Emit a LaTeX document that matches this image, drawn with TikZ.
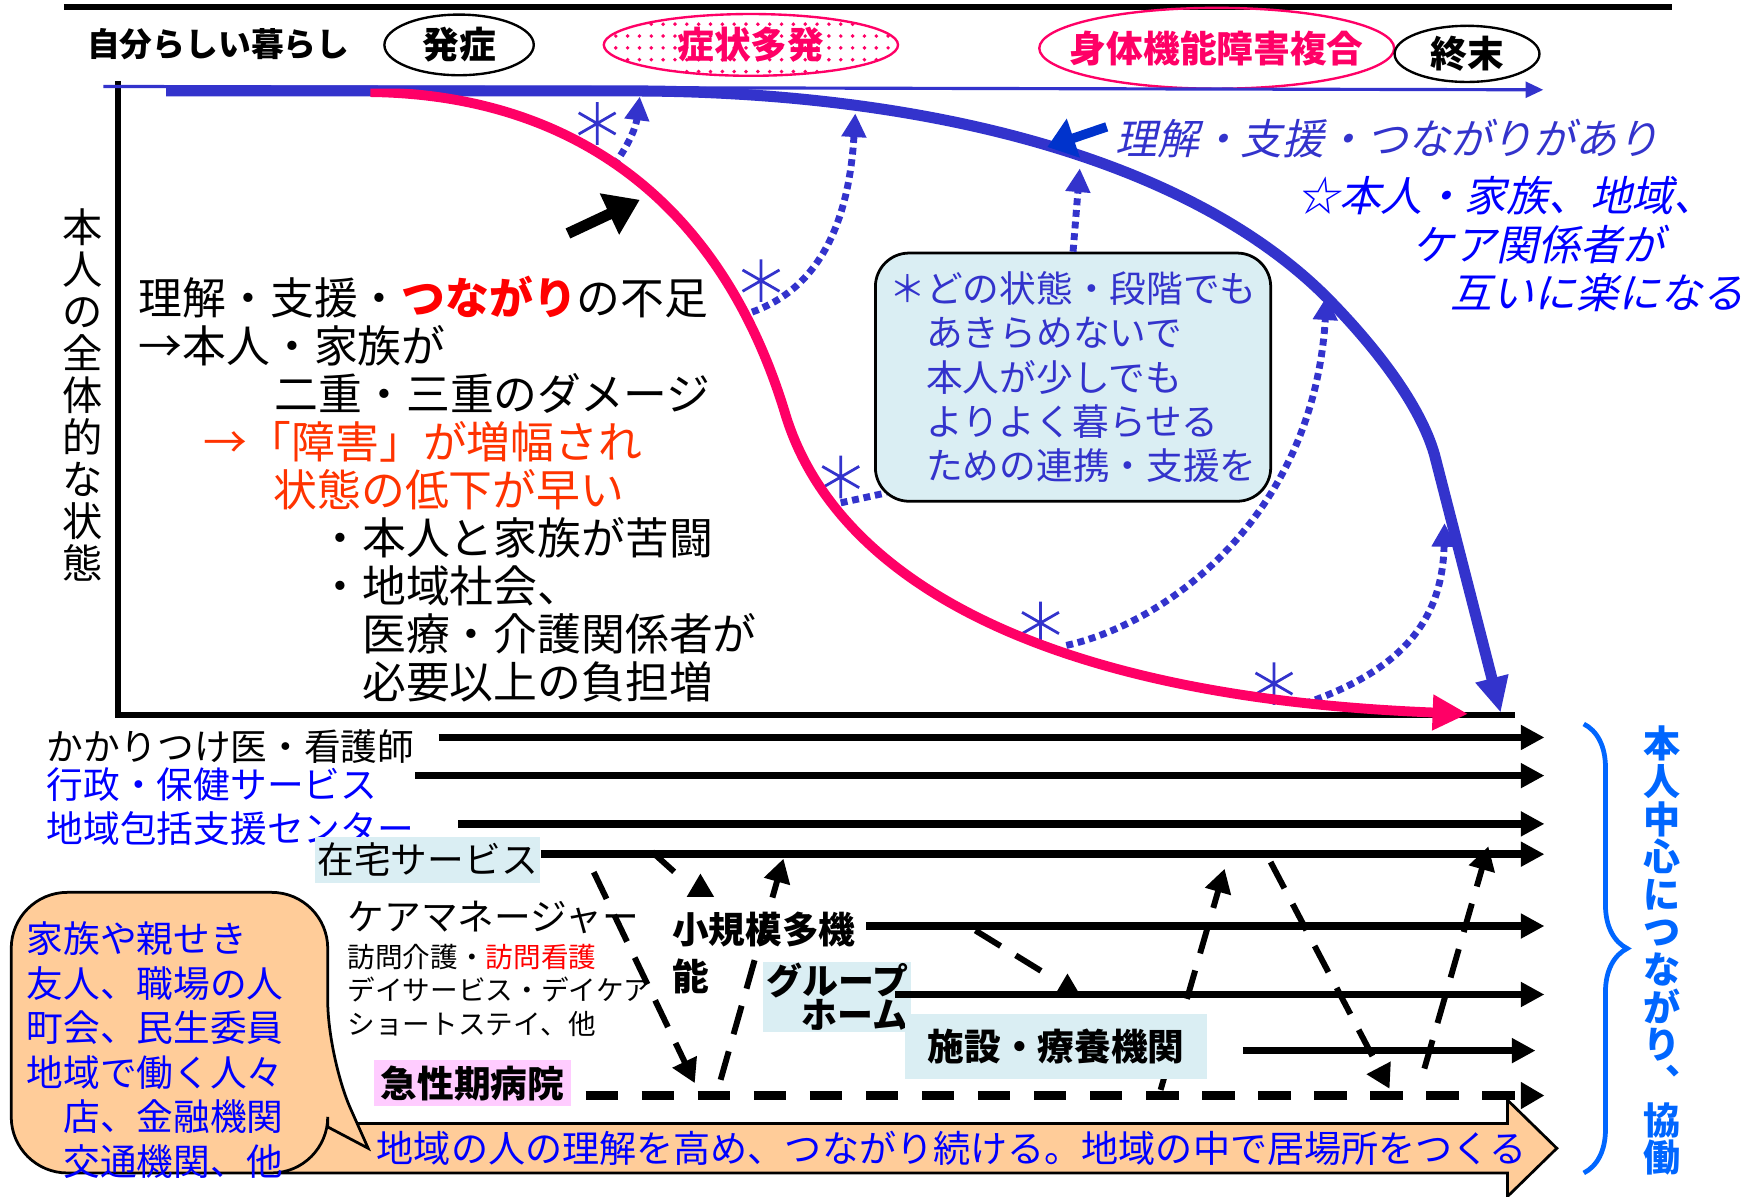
\documentclass[tikz,border=0pt]{standalone}
\usepackage{fontspec}
\setmainfont{Noto Sans CJK JP}
\newfontfamily\sljp{Noto Sans CJK JP}[FakeSlant=0.22]
\usepackage{tikz}
\usetikzlibrary{arrows.meta,shapes.geometric,patterns,decorations.pathreplacing}

\definecolor{cblue}{RGB}{51,51,204}
\definecolor{dblue}{RGB}{0,51,204}
\definecolor{tblue}{RGB}{0,0,255}
\definecolor{rblue}{RGB}{0,102,255}
\definecolor{cpink}{RGB}{255,0,102}
\definecolor{ored}{RGB}{255,51,0}
\definecolor{lcyan}{RGB}{218,238,243}
\definecolor{lpink}{RGB}{255,204,255}
\definecolor{lorange}{RGB}{255,204,153}

\newcommand{\fsz}[2]{\fontsize{#1}{#2}\selectfont\lineskiplimit=-30pt\relax}

\begin{document}
\begin{tikzpicture}[x=0.01cm,y=-0.01cm,
	every node/.style={inner sep=0pt},
	oval/.style={ellipse,draw,line width=0.6pt,font=\fsz{9.3pt}{11pt}\bfseries},
	tag/.style={fill=lcyan,font=\fsz{9.3pt}{11pt}},
	bluebar/.style={draw=cblue,line width=2.8pt,-{Triangle[length=9pt,width=8pt]}},
	pinkbar/.style={draw=cpink,line width=2.5pt,-{Triangle[length=9pt,width=8.5pt]}},
	dotline/.style={draw=cblue,line width=1.75pt,dash pattern=on 1.75pt off 1.2pt},
	dotarrow/.style={dotline,-{Triangle[length=6pt,width=6pt]}},
	harrow/.style={line width=1.9pt,-{Triangle[length=6pt,width=6pt]}},
	dashline/.style={line width=1.5pt,dash pattern=on 7.5pt off 4.5pt},
	dasharrow/.style={dashline,-{Triangle[length=6pt,width=6.5pt]}},
	astk/.pic={\draw[cblue,line width=0.7pt] (90:19) -- (270:19) (30:19) -- (210:19) (150:19) -- (330:19);}
	]
	\useasboundingbox (0,0) rectangle (1568,1066);

	% top
	\draw[line width=1.5pt] (57,6) -- (1490,6);
	\node[anchor=west,font=\fsz{8.3pt}{10pt}\bfseries] (title) at (77,39) {自分らしい暮らし};
	\node[oval,minimum width=1.33cm,minimum height=0.54cm] (onset) at (409,40) {発症};
	\node[oval,draw=cpink,text=cpink,pattern=dots,pattern color=cpink,minimum width=2.62cm,minimum height=0.55cm] (multi) at (669,40) {症状多発};
	\node[oval,draw=cpink,text=cpink,inner xsep=-0.2cm,minimum width=3.16cm,minimum height=0.72cm] (phys) at (1084,43) {身体機能障害複合};
	\node[oval,minimum width=1.29cm,minimum height=0.5cm] (term) at (1307,48) {終末};

	% axes
	\draw[line width=1.4pt] (105,72) -- (105,637) -- (1350,637);
	\node[align=center,font=\fsz{10.2pt}{10.64pt}] (state) at (74,352) {本\\人\\の\\全\\体\\的\\な\\状\\態};

	% asterisks, dotted arrows
	\foreach \ax/\ay in {532/110,678/250,749/425,927/555,1135/609}
		\pic at (\ax,\ay) {astk};
	\draw[dotarrow] (547,147) .. controls (563,125) and (567,110) .. (570,86);
	\draw[dotarrow] (670,278) .. controls (715,262) and (755,220) .. (762,101);
	\draw[dotline] (749,448) -- (790,439);
	\draw[dotarrow] (950,575) .. controls (1040,555) and (1170,460) .. (1182,264);
	\draw[dotarrow] (1162,627) .. controls (1240,600) and (1285,560) .. (1287,466);

	% curves
	\draw[bluebar] (148,81) -- (560,81) .. controls (820,81) and (1060,140) .. (1185,268) .. controls (1225,309) and (1265,360) .. (1278,405) -- (1337,635);
	\draw[pinkbar] (330,82) .. controls (500,84) and (640,170) .. (700,370) .. controls (740,500) and (900,620) .. (1308,636);
	\draw[cblue,line width=0.8pt,-{Triangle[length=4.5pt,width=4pt]}] (92,77) -- (1375,80);
	\draw[line width=2.8pt,-{Triangle[length=8.5pt,width=11pt]}] (506,208) -- (570,178);
	\draw[dblue,line width=2.4pt,-{Triangle[length=7pt,width=10pt]}] (986,113) -- (933,131);

	% texts in the chart
	\node[anchor=west,align=left,font=\fsz{11.1pt}{12.16pt}] (lack) at (123,436) {理解・支援・{\color{red}\bfseries つながり}の不足\\→本人・家族が\\\hspace*{1.21cm}二重・三重のダメージ\\\hspace*{0.58cm}{\color{ored}→「障害」が増幅され}\\\hspace*{1.2cm}{\color{ored}状態の低下が早い}\\\hspace*{1.6cm}・本人と家族が苦闘\\\hspace*{1.6cm}・地域社会、\\\hspace*{1.99cm}医療・介護関係者が\\\hspace*{1.99cm}必要以上の負担増};
	\node[anchor=west,text=cblue,font=\sljp\fsz{10.6pt}{12pt}] (with) at (993,123) {理解・支援・つながりがあり};
	\node[anchor=west,text=tblue,font=\sljp\fsz{10.6pt}{12pt}] (all1) at (1155,174) {☆本人・家族、地域、};
	\node[anchor=west,text=tblue,font=\sljp\fsz{10.6pt}{12pt}] (all2) at (1258,218) {ケア関係者が};
	\node[anchor=west,text=tblue,font=\sljp\fsz{10.6pt}{12pt}] (all3) at (1292,261) {互いに楽になる};
	\node[draw,fill=lcyan,line width=0.7pt,rounded corners=0.3cm,minimum width=3.52cm,minimum height=2.21cm,align=left,text=cblue,font=\fsz{9.3pt}{11.25pt}] (note) at (956,336) {＊どの状態・段階でも\\　あきらめないで\\　本人が少しでも\\　よりよく暮らせる\\　ための連携・支援を};
	\draw[dotarrow] (note.north) -- (962,150);

	% band and bubble
	\draw[fill=lorange,line width=0.7pt] (250,1001) -- (1343,1001) -- (1343,980) -- (1387,1023) -- (1343,1066) -- (1343,1045) -- (250,1045) -- cycle;
	\node[anchor=west,text=tblue,font=\fsz{9.4pt}{11pt}] (band) at (335,1023) {地域の人の理解を高め、つながり続ける。地域の中で居場所をつくる};
	\draw[fill=lorange,line width=0.7pt,rounded corners=0.5cm] (10,795) -- (292,795) -- (292,942) [sharp corners] -- (328,1023) -- (292,1004) [rounded corners=0.5cm] -- (292,1045) -- (10,1045) -- cycle;
	\node[anchor=west,align=left,text=tblue,font=\fsz{9.3pt}{11.3pt}] (people) at (23,935.5) {家族や親せき\\友人、職場の人\\町会、民生委員\\地域で働く人々\\　店、金融機関\\　交通機関、他};

	\draw[rblue,line width=1.2pt,decorate,decoration={brace,amplitude=11pt}] (1411,645) -- (1411,1045);
	\node[align=center,text=rblue,font=\fsz{9.4pt}{9.53pt}\bfseries] (focus) at (1481,847) {本\\人\\中\\心\\に\\つ\\な\\が\\り\\︑\\協\\働};

	% services
	\node[anchor=west,font=\fsz{9.3pt}{11pt}] (kakari) at (41,665) {かかりつけ医・看護師};
	\node[anchor=west,text=tblue,font=\fsz{9.3pt}{11pt}] (gyosei) at (41,699) {行政・保健サービス};
	\node[anchor=west,text=tblue,font=\fsz{9.3pt}{11pt}] (hokatsu) at (41,738) {地域包括支援センター};
	\node[tag,minimum width=2cm,minimum height=0.41cm] (zaitaku) at (381,766) {在宅サービス};
	\node[anchor=west,font=\fsz{9.3pt}{11pt}] (caremgr) at (309,817) {ケアマネージャー};
	\node[anchor=west,align=left,font=\fsz{7pt}{8.5pt}] (visit) at (309,882) {訪問介護・{\color{red}訪問看護}\\デイサービス・デイケア\\ショートステイ、他};
	\node[anchor=west,align=left,font=\fsz{9.3pt}{11.66pt}\bfseries] (kibo) at (598,849) {小規模多機\\能};
	\node[tag,align=right,minimum width=1.32cm,minimum height=0.62cm,font=\fsz{9.1pt}{8.8pt}\bfseries] (group) at (746,888) {グループ\\ホーム};

	\draw[dasharrow] (529,777) -- (619,965);
	\draw[dasharrow] (642,962) -- (698,765);
	\draw[dashline] (581,759) -- (601,777);
	\draw[dasharrow] (624,797) -- (624,778);
	\draw[dashline] (869,829) -- (934,869);
	\draw[dasharrow] (951,886) -- (951,867);
	\draw[dasharrow] (1034,971) -- (1091,774);
	\draw[dasharrow] (1132,768) -- (1238,970);
	\draw[dasharrow] (1269,952) -- (1326,754);

	\node[tag,minimum width=2.69cm,minimum height=0.58cm,font=\fsz{9.3pt}{11pt}\bfseries] (shisetsu) at (941,932) {施設・療養機関};
	\node[fill=lpink,minimum width=1.76cm,minimum height=0.41cm,font=\fsz{9.3pt}{11pt}\bfseries] (kyusei) at (421,965) {急性期病院};

	\coordinate (rim) at (1376,0);
	\draw[harrow] ([shift={(21,-8)}]kakari.east) coordinate (s1) -- (s1 -| rim);
	\draw[harrow] ([shift={(33,-8)}]gyosei.east) coordinate (s2) -- (s2 -| rim);
	\draw[harrow] ([shift={(39,-4)}]hokatsu.east) coordinate (s3) -- (s3 -| rim);
	\draw[harrow] ([shift={(0,-5)}]zaitaku.east) coordinate (s4) -- (s4 -| rim);
	\draw[harrow] ([shift={(9,-24)}]kibo.east) coordinate (s5) -- (s5 -| rim);
	\draw[harrow] ([shift={(-15,-2)}]group.east) coordinate (s6) -- (s6 -| rim);
	\draw[harrow] ([shift={(31,4)}]shisetsu.east) coordinate (s7) -- ([xshift=-0.08cm]s7 -| rim);
	\draw[line width=2.1pt,dash pattern=on 8.2pt off 6pt,-{Triangle[length=6pt,width=6.5pt]}] ([shift={(12,11)}]kyusei.east) coordinate (s8) -- (s8 -| rim);
\end{tikzpicture}
\end{document}
